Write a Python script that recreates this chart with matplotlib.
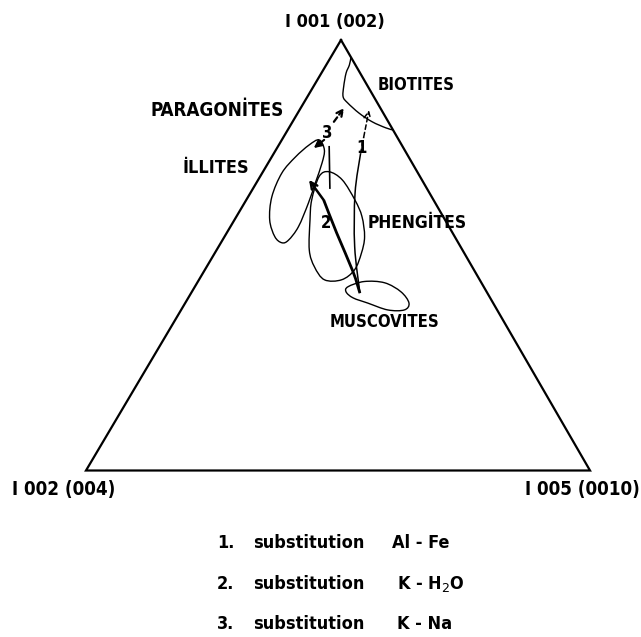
import numpy as np
import matplotlib
matplotlib.use("Agg")
import matplotlib.pyplot as plt
from matplotlib.path import Path
from matplotlib.patches import PathPatch
from matplotlib import font_manager

# ---- data: ternary fractions (a = I001(002), c = I005(0010); I002(004) = 1-a-c)
biotite_a = [0.960, 0.942, 0.923, 0.892, 0.868, 0.854, 0.830, 0.810, 0.796, 0.791]
biotite_c = [0.040, 0.046, 0.049, 0.060, 0.071, 0.087, 0.122, 0.158, 0.192, 0.209]

illite_a = [0.768, 0.745, 0.714, 0.668, 0.621, 0.566, 0.535, 0.529, 0.543, 0.582, 0.636, 0.691, 0.728, 0.756]
illite_c = [0.074, 0.096, 0.107, 0.117, 0.127, 0.135, 0.131, 0.121, 0.100, 0.070, 0.047, 0.039, 0.047, 0.060]

phengite_a = [0.694, 0.675, 0.628, 0.590, 0.543, 0.505, 0.466, 0.443, 0.443, 0.473, 0.512, 0.582, 0.628, 0.683]
phengite_c = [0.131, 0.167, 0.216, 0.249, 0.278, 0.291, 0.297, 0.283, 0.249, 0.214, 0.184, 0.150, 0.130, 0.117]

muscovite_a = [0.427, 0.439, 0.436, 0.415, 0.389, 0.373, 0.373, 0.389, 0.401, 0.415]
muscovite_c = [0.304, 0.330, 0.372, 0.415, 0.444, 0.443, 0.410, 0.362, 0.327, 0.306]

# substitution trends
trend1_a = [0.412, 0.520, 0.644, 0.737, 0.775, 0.837]
trend1_c = [0.335, 0.270, 0.208, 0.172, 0.159, 0.138]
trend2_a = [0.412, 0.462, 0.552, 0.628, 0.675]
trend2_c = [0.335, 0.296, 0.218, 0.154, 0.101]
trend3_lo_a = [0.768, 0.749]
trend3_lo_c = [0.084, 0.073]
trend3_hi_a = [0.810, 0.842]
trend3_hi_c = [0.082, 0.086]
trend3_stem_a = [0.752, 0.656]
trend3_stem_c = [0.102, 0.152]

apex_label = "I 001 (002)"
left_label = "I 002 (004)"
right_label = "I 005 (0010)"
field_names = ["BIOTITES", "PARAGONİTES", "İLLITES", "PHENGİTES", "MUSCOVITES"]
legend_nums = ["1.", "2.", "3."]
legend_words = ["substitution", "substitution", "substitution"]
legend_pairs = ["Al - Fe", "K - H$_2$O", "K - Na"]

# ---- font choice: a condensed, heavier sans if available
FONT = "DejaVu Sans"
names = {(f.name, f.stretch if isinstance(f.stretch, str) else str(f.stretch), f.weight)
         for f in font_manager.fontManager.ttflist}
has_cond = any(n == "DejaVu Sans" and ("condensed" in s or s in ("300", "400")) for n, s, w in names)
if has_cond:
    TXT = dict(family=FONT, fontstretch="condensed", fontweight="bold")
    SCALE = 1.0
else:
    TXT = dict(family=FONT, fontweight="bold")
    SCALE = 0.9
plt.rcParams["mathtext.fontset"] = "dejavusans"


def T(x, y, s, size, **kw):
    d = dict(TXT)
    d.update(kw)
    ax.text(x, y, s, fontsize=size * SCALE, **d)


# ---- figure in pixel space
W, H = 641, 637
fig = plt.figure(figsize=(W / 100, H / 100), dpi=100)
ax = fig.add_axes([0, 0, 1, 1])
ax.set_xlim(0, W)
ax.set_ylim(H, 0)
ax.axis("off")

APEX = np.array([341.0, 40.0])
LEFT = np.array([86.0, 470.5])
RIGHT = np.array([590.0, 470.5])


def tern(a, c):
    a = np.asarray(a, float)
    c = np.asarray(c, float)
    b = 1 - a - c
    x = a * APEX[0] + b * LEFT[0] + c * RIGHT[0]
    y = a * APEX[1] + b * LEFT[1] + c * RIGHT[1]
    return np.column_stack([x, y])


def smooth(pts, closed=True):
    n = len(pts)
    verts = [pts[0]]
    codes = [Path.MOVETO]
    rng = n if closed else n - 1
    for i in range(rng):
        p1 = pts[i]
        p2 = pts[(i + 1) % n]
        if closed:
            p0 = pts[(i - 1) % n]
            p3 = pts[(i + 2) % n]
        else:
            p0 = pts[i - 1] if i > 0 else p1
            p3 = pts[i + 2] if i + 2 < n else p2
        c1 = p1 + (p2 - p0) / 6.0
        c2 = p2 - (p3 - p1) / 6.0
        verts += [c1, c2, p2]
        codes += [Path.CURVE4] * 3
    return Path(np.array(verts), codes)


K = "black"

# triangle
tri = np.array([APEX, LEFT, RIGHT, APEX])
ax.plot(tri[:, 0], tri[:, 1], color=K, lw=1.6, solid_joinstyle="miter")

# fields
ax.add_patch(PathPatch(smooth(tern(biotite_a, biotite_c), closed=False), fill=False, lw=1.0, ec=K))
for fa, fc in [(illite_a, illite_c), (phengite_a, phengite_c), (muscovite_a, muscovite_c)]:
    ax.add_patch(PathPatch(smooth(tern(fa, fc), closed=True), fill=False, lw=1.0, ec=K))

# trend 1 (Al-Fe)
t1 = tern(trend1_a, trend1_c)
ax.add_patch(PathPatch(smooth(t1[:4], closed=False), fill=False, lw=1.1, ec=K))
ax.plot(t1[3:5, 0], t1[3:5, 1], color=K, lw=1.1, ls=(0, (3, 2)))
ax.annotate("", xy=t1[5], xytext=t1[4],
            arrowprops=dict(arrowstyle="->", lw=1.1, color=K, mutation_scale=12,
                            linestyle=(0, (3, 2)), shrinkA=0, shrinkB=0))

# trend 2 (K-H2O)
t2 = tern(trend2_a, trend2_c)
ax.add_patch(PathPatch(smooth(t2[:4], closed=False), fill=False, lw=2.0, ec=K))
ax.annotate("", xy=t2[4], xytext=t2[3],
            arrowprops=dict(arrowstyle="->", lw=1.8, color=K, mutation_scale=12,
                            shrinkA=0, shrinkB=0))

# trend 3 (K-Na)
lo = tern(trend3_lo_a, trend3_lo_c)
hi = tern(trend3_hi_a, trend3_hi_c)
st = tern(trend3_stem_a, trend3_stem_c)
ax.annotate("", xy=lo[1], xytext=lo[0],
            arrowprops=dict(arrowstyle="-|>", lw=1.5, color=K, mutation_scale=11,
                            shrinkA=0, shrinkB=0))
ax.annotate("", xy=hi[1], xytext=hi[0],
            arrowprops=dict(arrowstyle="->", lw=1.6, color=K, mutation_scale=11,
                            linestyle=(0, (2.5, 1.5)), shrinkA=0, shrinkB=0))
ax.plot(st[:, 0], st[:, 1], color=K, lw=1.2)

# numbers on trends
T(362, 148, "1", 12, ha="center", va="center")
T(326, 223, "2", 12, ha="center", va="center")
T(327, 133, "3", 12, ha="center", va="center")

# vertex labels
T(335, 22, apex_label, 13, ha="center", va="center")
T(12, 489, left_label, 13.5, ha="left", va="center")
T(640, 489, right_label, 13.5, ha="right", va="center")

# field labels
T(378, 85, field_names[0], 12, ha="left", va="center")
T(150, 110, field_names[1], 13.5, ha="left", va="center")
T(183, 168, field_names[2], 13, ha="left", va="center")
T(368, 223, field_names[3], 12.5, ha="left", va="center")
T(330, 322, field_names[4], 12, ha="left", va="center")

# legend
rows_y = [543, 584, 624]
for i in range(3):
    T(217, rows_y[i], legend_nums[i], 13, ha="left", va="center")
    T(253, rows_y[i], legend_words[i], 13, ha="left", va="center")
    T(392 if i == 0 else 397, rows_y[i], legend_pairs[i], 13, ha="left", va="center")

fig.savefig("out.png", dpi=100)
